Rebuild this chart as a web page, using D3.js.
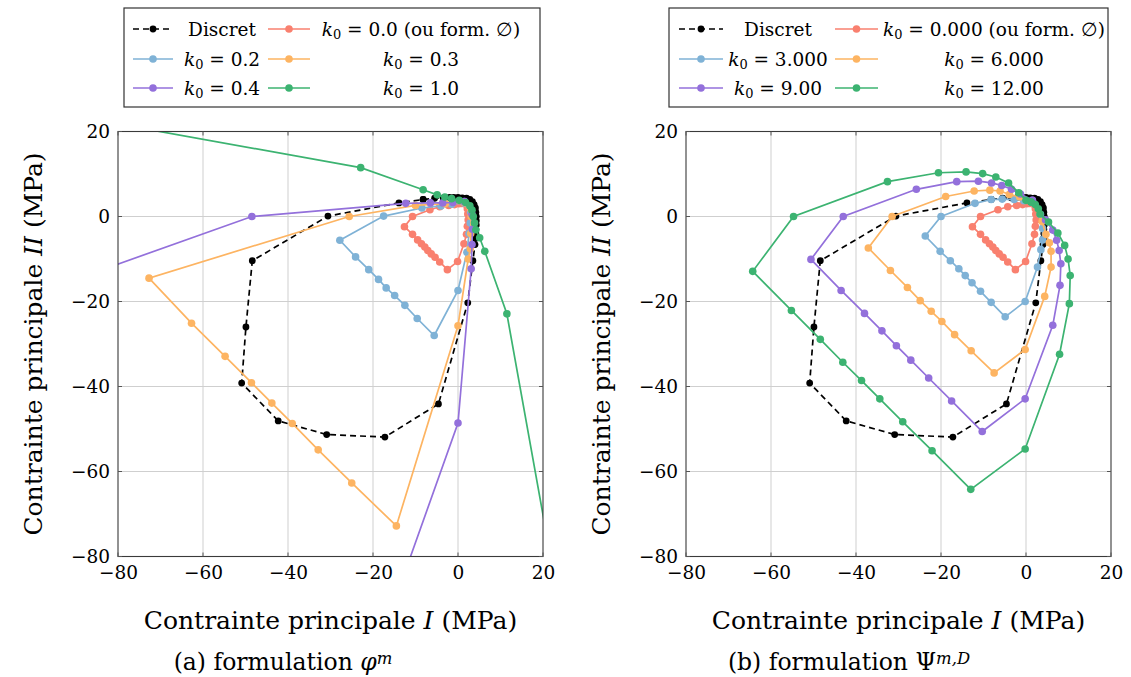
<!DOCTYPE html>
<html><head><meta charset="utf-8">
<script src="https://cdn.jsdelivr.net/npm/d3@7/dist/d3.min.js"></script>
<style>
html,body{margin:0;padding:0;background:#fff;}
svg text{font-family:"DejaVu Serif",serif;fill:#000;}
</style></head>
<body>
<svg id="chart" width="1131" height="677"></svg>
<script>
// ---------------- data ----------------
const xTicks = [-80, -60, -40, -20, 0, 20];
const yTicks = [-80, -60, -40, -20, 0, 20];

const discret = [[-8.2,4.0],[-5.5,4.3],[-3.5,4.4],[-2,4.5],[-1,4.5],[0,4.5],[1,4.4],[2,4.3],[2.8,4.0],[3.4,3.5],[3.8,2.8],[4.1,2.0],[4.2,1.0],[4.3,0],[4.3,-1],[4.3,-2],[4.2,-3],[4.2,-4],[4.1,-5.2],[4.0,-6.6],[3.5,-10.4],[2.3,-20.3],[-4.6,-44.1],[-17.2,-51.9],[-30.9,-51.3],[-42.3,-48.1],[-50.9,-39.2],[-49.9,-26.0],[-48.4,-10.4],[-30.6,0.1],[-13.9,3.2],[-8.2,4.0]];

const k0_zero = [[1.6,3.0],[0.9,3.05],[0.2,3.0],[-0.8,2.8],[-2.2,2.6],[-4.3,2.3],[-6.6,1.6],[-10.7,0],[-12.6,-2.4],[-10.7,-4.2],[-9.5,-5.5],[-8.6,-6.4],[-7.8,-7.2],[-7.1,-8.0],[-6.3,-8.8],[-5.4,-9.6],[-4.3,-10.7],[-2.5,-12.5],[-0.1,-10.6],[1.4,-6.4],[2.0,-4.2],[2.2,-2.3],[2.4,-0.8],[2.3,0.6],[2.2,1.8],[1.6,3.0]];

// (a) formulation phi^m
const a_k02 = [[1.5,3.2],[-1.5,2.9],[-4,2.5],[-8.5,2.0],[-17.5,0.1],[-27.8,-5.6],[-24.1,-9.5],[-21.0,-12.5],[-18.7,-14.8],[-16.9,-16.8],[-14.9,-18.6],[-12.5,-20.9],[-9.6,-24.0],[-5.6,-28.0],[0,-17.4],[2.1,-8.4],[2.6,-4],[2.9,-1.5],[3.0,1],[1.5,3.2]];
const a_k03 = [[1.5,3.3],[-3,3.0],[-10.0,2.6],[-25.6,0],[-72.7,-14.5],[-62.7,-25.1],[-54.8,-32.9],[-48.6,-39.1],[-43.8,-43.9],[-39.0,-48.7],[-32.9,-54.9],[-25.0,-62.7],[-14.5,-72.8],[0,-25.7],[2.4,-10.0],[2.9,-7.6],[3.0,-4],[3.1,0],[1.5,3.3]];
const a_k04 = [[1.5,3.5],[-1.2,3.3],[-3.6,3.2],[-6.5,3.2],[-12.3,3.1],[-48.5,0],[-300.5,-89.6],[-89.6,-300.5],[0,-48.6],[3.1,-12.3],[3.3,-6.6],[3.4,-3],[3.3,0.5],[1.5,3.5]];
const a_k10 = [[-300,-50],[-164.8,37],[-22.9,11.5],[-8.2,6.3],[-4.9,5.1],[-3.1,4.6],[-1.5,4.2],[0.3,3.8],[1.8,3.3],[2.8,2.5],[3.3,1.5],[3.6,0],[3.9,-1.5],[4.2,-3.1],[5.1,-5.0],[6.3,-8.2],[11.5,-22.9],[37,-164.8],[-50,-300]];

// (b) formulation Psi^{m,D}
const b_k3 = [[1.5,3.3],[-0.5,3.7],[-2.8,4.0],[-5.6,4.1],[-8.2,4.0],[-12.0,3.1],[-20,0],[-23.7,-4.6],[-20.2,-8.2],[-17.8,-10.4],[-15.8,-12.3],[-14.3,-13.9],[-12.7,-15.6],[-10.7,-17.6],[-8.2,-20.2],[-4.9,-23.6],[-0.2,-20.0],[2.7,-11.9],[3.5,-7.8],[3.9,-5.5],[3.9,-2.8],[3.4,0.5],[1.5,3.3]];
const b_k6 = [[1.5,3.6],[-1.5,4.6],[-3.9,5.2],[-6.1,6.0],[-8.5,6.2],[-12.2,6.0],[-18.9,4.7],[-31.5,0],[-37.1,-7.4],[-31.9,-12.7],[-27.9,-16.7],[-24.9,-19.8],[-22.3,-22.3],[-19.8,-24.7],[-16.8,-27.8],[-12.9,-31.6],[-7.5,-36.8],[-0.2,-31.3],[4.4,-18.8],[5.9,-11.9],[5.9,-8.2],[5.5,-6.2],[4.7,-4.2],[3.8,-1.2],[1.5,3.6]];
const b_k9 = [[1.5,3.8],[-1.3,5.3],[-3.4,6.4],[-5.7,7.3],[-8.1,7.9],[-11.2,8.3],[-16.3,8.2],[-25.8,6.4],[-43.0,0],[-50.6,-10.1],[-43.5,-17.4],[-38.0,-22.8],[-33.9,-26.9],[-30.5,-30.4],[-27.1,-33.8],[-22.9,-38.0],[-17.5,-43.4],[-10.3,-50.6],[-0.2,-42.9],[6.3,-25.6],[8.0,-16.2],[8.2,-11.1],[7.8,-8.0],[7.2,-5.6],[6.3,-3.2],[4.6,-0.8],[1.5,3.8]];
const b_k12 = [[1.2,3.4],[0,3.8],[-1.7,5.6],[-4.1,7.9],[-7.1,9.3],[-10.2,10.1],[-14.1,10.5],[-20.6,10.3],[-32.6,8.2],[-54.7,0],[-64.3,-12.9],[-55.2,-22.1],[-48.4,-28.9],[-43.1,-34.3],[-38.7,-38.6],[-34.4,-42.9],[-29.0,-48.3],[-22.1,-55.1],[-13.0,-64.2],[-0.2,-54.7],[7.9,-32.4],[10.2,-20.5],[10.4,-13.9],[9.9,-10.0],[9.1,-6.8],[7.5,-3.9],[5.3,-1.3],[3.3,0.6],[2.9,1.8],[2.2,2.8],[1.2,3.4]];

const colRed = "#f9806f", colBlue = "#7fb2d6", colOrange = "#fdb462", colPurple = "#9370db", colGreen = "#3cb371";

const panels = [
  { x0: 118, x1: 543, legendBox: [124, 8, 540, 107],
    col1: [133, 173, 222], col2: [268, 310, 421],
    series: [
      {data: discret, color: "#000", dash: true, label: [["Discret"]]},
      {data: k0_zero, color: colRed, label: [["k","i"],["0","sub"],[" = 0.0 (ou form. ∅)"]]},
      {data: a_k02, color: colBlue, label: [["k","i"],["0","sub"],[" = 0.2"]]},
      {data: a_k03, color: colOrange, label: [["k","i"],["0","sub"],[" = 0.3"]]},
      {data: a_k04, color: colPurple, label: [["k","i"],["0","sub"],[" = 0.4"]]},
      {data: a_k10, color: colGreen, label: [["k","i"],["0","sub"],[" = 1.0"]]}
    ]},
  { x0: 686, x1: 1111, legendBox: [669, 8, 1108, 107],
    col1: [679, 723, 778], col2: [835, 878, 994],
    series: [
      {data: discret, color: "#000", dash: true, label: [["Discret"]]},
      {data: k0_zero, color: colRed, label: [["k","i"],["0","sub"],[" = 0.000 (ou form. ∅)"]]},
      {data: b_k3, color: colBlue, label: [["k","i"],["0","sub"],[" = 3.000"]]},
      {data: b_k6, color: colOrange, label: [["k","i"],["0","sub"],[" = 6.000"]]},
      {data: b_k9, color: colPurple, label: [["k","i"],["0","sub"],[" = 9.00"]]},
      {data: b_k12, color: colGreen, label: [["k","i"],["0","sub"],[" = 12.00"]]}
    ]}
];

const svg = d3.select("#chart");
const yTop = 131.5, yBot = 556.5;
const FONT = "DejaVu Serif";

function rich(sel, parts) {
  parts.forEach(p => {
    const ts = sel.append("tspan").text(p[0]);
    if (p[1] === "i") ts.attr("font-style", "italic");
    if (p[1] === "sub") ts.attr("font-size", "0.7em").attr("baseline-shift", "-25%");
    if (p[1] === "sup") ts.attr("font-size", "0.7em").attr("font-style", "italic").attr("baseline-shift", "40%");
  });
}

panels.forEach((P, pi) => {
  const x = d3.scaleLinear().domain([-80, 20]).range([P.x0, P.x1]);
  const y = d3.scaleLinear().domain([-80, 20]).range([yBot, yTop]);
  const g = svg.append("g");

  // grid
  g.append("g").selectAll("line").data(xTicks.slice(1, -1)).join("line")
    .attr("x1", d => x(d)).attr("x2", d => x(d)).attr("y1", yTop).attr("y2", yBot)
    .attr("stroke", "#cfcfcf").attr("stroke-width", 1);
  g.append("g").selectAll("line").data(yTicks.slice(1, -1)).join("line")
    .attr("y1", d => y(d)).attr("y2", d => y(d)).attr("x1", P.x0).attr("x2", P.x1)
    .attr("stroke", "#cfcfcf").attr("stroke-width", 1);

  // clip
  const cid = "clip" + pi;
  svg.append("clipPath").attr("id", cid).append("rect")
    .attr("x", P.x0).attr("y", yTop).attr("width", P.x1 - P.x0).attr("height", yBot - yTop);
  const plot = g.append("g").attr("clip-path", `url(#${cid})`);
  const line = d3.line().x(d => x(d[0])).y(d => y(d[1]));

  P.series.forEach(s => {
    plot.append("path").datum(s.data).attr("d", line).attr("fill", "none")
      .attr("stroke", s.color).attr("stroke-width", 1.7)
      .attr("stroke-dasharray", s.dash ? "6,4" : null);
    plot.append("g").selectAll("circle").data(s.data).join("circle")
      .attr("cx", d => x(d[0])).attr("cy", d => y(d[1]))
      .attr("r", s.dash ? 3.4 : 3.8).attr("fill", s.color);
  });

  // frame
  g.append("rect").attr("x", P.x0).attr("y", yTop).attr("width", P.x1 - P.x0).attr("height", yBot - yTop)
    .attr("fill", "none").attr("stroke", "#3a3a3a").attr("stroke-width", 1.1);

  // ticks (inward on all sides)
  const tk = 4;
  xTicks.forEach(t => {
    g.append("line").attr("x1", x(t)).attr("x2", x(t)).attr("y1", yBot).attr("y2", yBot - tk).attr("stroke", "#555");
    g.append("line").attr("x1", x(t)).attr("x2", x(t)).attr("y1", yTop).attr("y2", yTop + tk).attr("stroke", "#555");
  });
  yTicks.forEach(t => {
    g.append("line").attr("y1", y(t)).attr("y2", y(t)).attr("x1", P.x0).attr("x2", P.x0 + tk).attr("stroke", "#555");
    g.append("line").attr("y1", y(t)).attr("y2", y(t)).attr("x1", P.x1).attr("x2", P.x1 - tk).attr("stroke", "#555");
  });

  // tick labels via d3 axes
  const fmt = d3.format("d");
  const ax = g.append("g").attr("transform", `translate(0,${yBot})`)
    .call(d3.axisBottom(x).tickValues(xTicks).tickFormat(fmt).tickSize(0).tickPadding(9));
  ax.select(".domain").remove();
  ax.attr("font-family", FONT);
  ax.selectAll("text").attr("font-size", 18.5).attr("fill", "#000");
  const ay = g.append("g").attr("transform", `translate(${P.x0},0)`)
    .call(d3.axisLeft(y).tickValues(yTicks).tickFormat(fmt).tickSize(0).tickPadding(8));
  ay.select(".domain").remove();
  ay.attr("font-family", FONT);
  ay.selectAll("text").attr("font-size", 18.5).attr("fill", "#000");

  // axis labels
  const cx = (P.x0 + P.x1) / 2;
  const xl = g.append("text").attr("x", cx).attr("y", 629).attr("text-anchor", "middle").attr("font-size", 25);
  rich(xl, [["Contrainte principale "], ["I", "i"], [" (MPa)"]]);
  const ylx = P.x0 - 76;
  const yl = g.append("text").attr("transform", `translate(${ylx},${(yTop + yBot) / 2}) rotate(-90)`)
    .attr("text-anchor", "middle").attr("font-size", 25);
  rich(yl, [["Contrainte principale "], ["II", "i"], [" (MPa)"]]);

  // caption
  const capX = pi === 0 ? 283 : 849;
  const cap = g.append("text").attr("x", capX).attr("y", 670).attr("text-anchor", "middle").attr("font-size", 23.5);
  if (pi === 0) rich(cap, [["(a) formulation "], ["φ", "i"], ["m", "sup"]]);
  else rich(cap, [["(b) formulation Ψ"], ["m,D", "sup"]]);

  // legend
  const [bx0, by0, bx1, by1] = P.legendBox;
  g.append("rect").attr("x", bx0).attr("y", by0).attr("width", bx1 - bx0).attr("height", by1 - by0)
    .attr("fill", "#fff").attr("stroke", "#333").attr("stroke-width", 1.2);
  const rows = [29, 59, 88];
  P.series.forEach((s, i) => {
    const row = rows[Math.floor(i / 2)];
    const col = i % 2 === 0 ? P.col1 : P.col2;
    const lg = g.append("g");
    lg.append("line").attr("x1", col[0]).attr("x2", col[1]).attr("y1", row).attr("y2", row)
      .attr("stroke", s.color).attr("stroke-width", 1.7).attr("stroke-dasharray", s.dash ? "6,4" : null);
    lg.append("circle").attr("cx", (col[0] + col[1]) / 2).attr("cy", row).attr("r", s.dash ? 3.4 : 3.8).attr("fill", s.color);
    const t = lg.append("text").attr("x", col[2]).attr("y", row + 6.5).attr("text-anchor", "middle").attr("font-size", 18.5);
    rich(t, s.label);
  });
});
</script>
</body></html>
